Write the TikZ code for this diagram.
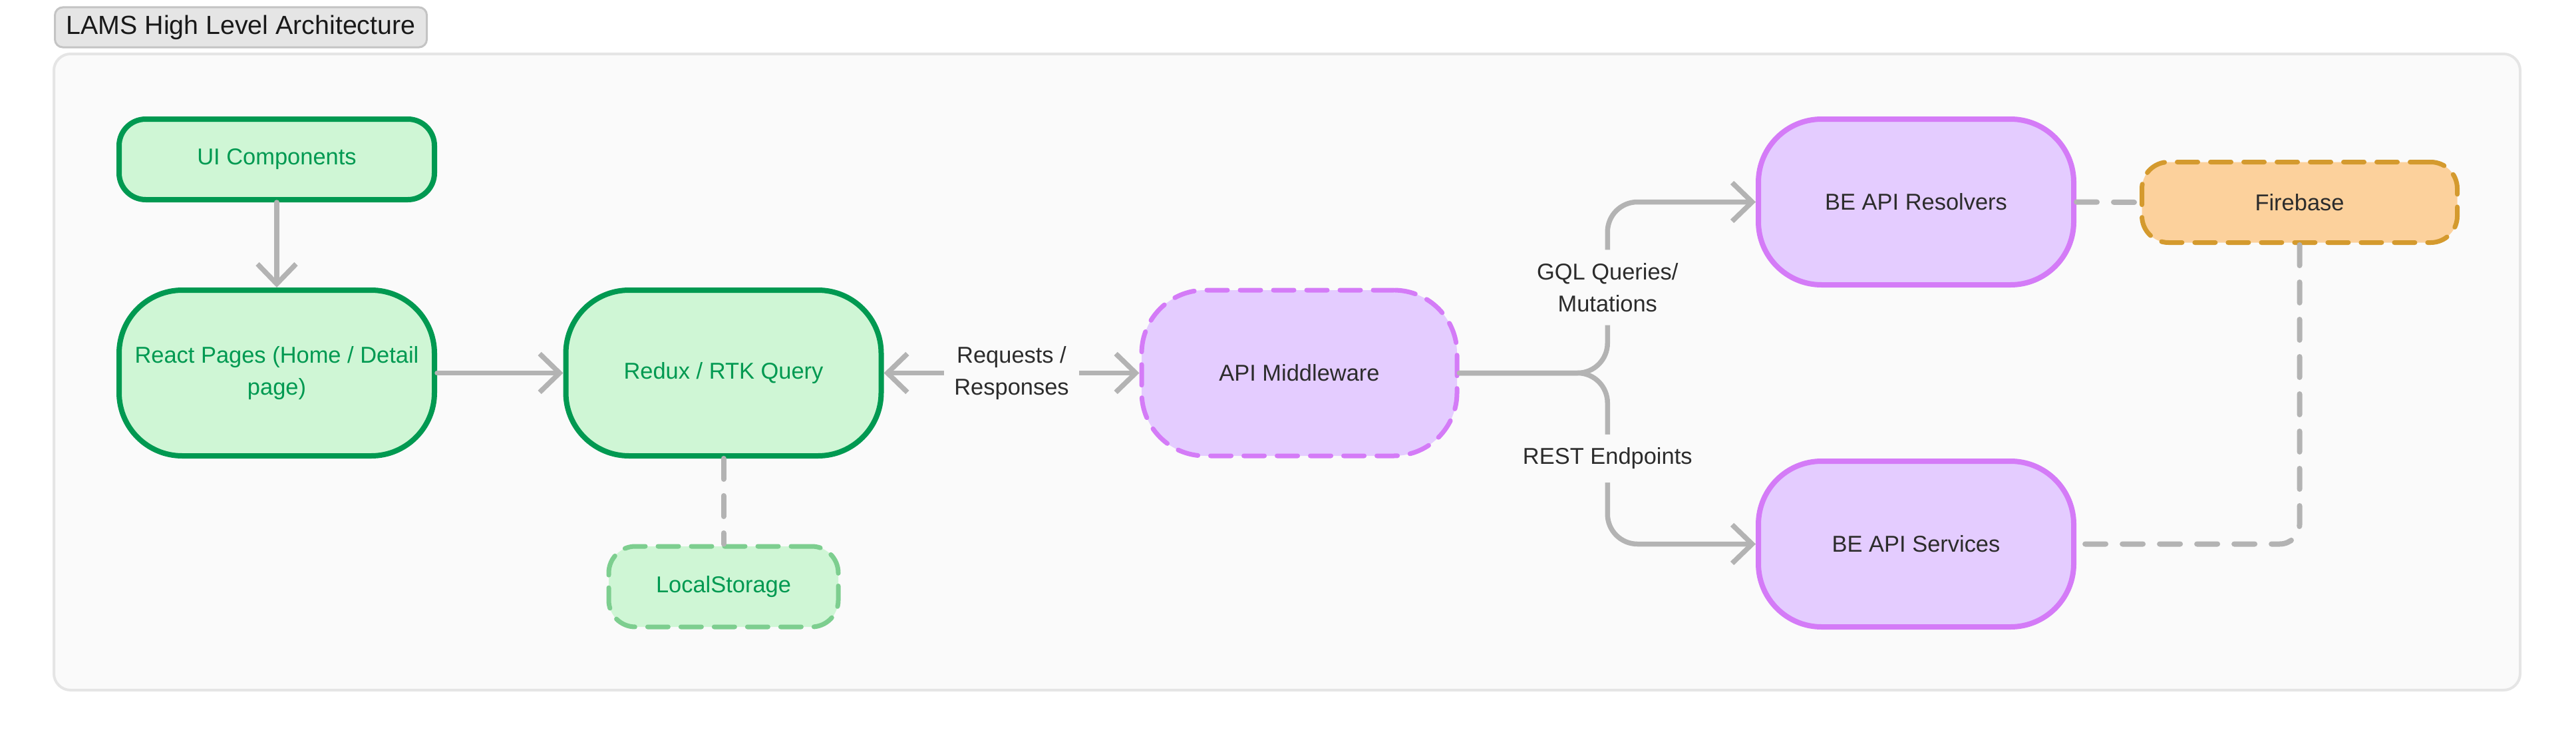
\documentclass[tikz,border=0pt]{standalone}
\usepackage{fontspec}
\setmainfont{Liberation Sans}
\usepackage{xcolor}
\usetikzlibrary{arrows.meta,calc,positioning}
\definecolor{verdefondo}{HTML}{CFF6D5}
\definecolor{verdeborde}{HTML}{009951}
\definecolor{verdeclaro}{HTML}{7DCE8F}
\definecolor{moradofondo}{HTML}{E4CCFF}
\definecolor{moradoborde}{HTML}{D47BF7}
\definecolor{naranjafondo}{HTML}{FCD19C}
\definecolor{naranjaborde}{HTML}{D49A2E}
\definecolor{gris}{HTML}{B3B3B3}
\definecolor{fondo}{HTML}{FAFAFA}
\definecolor{texto}{HTML}{2C2C2C}
\tikzset{
  caja/.style={rounded corners=0.95cm,line width=0.08cm,minimum width=4.74cm,minimum height=2.49cm,
    align=center,inner sep=0.1cm,font=\fontsize{9.8}{13.7}\selectfont},
  chica/.style={rounded corners=0.4cm,minimum height=1.21cm},
  punteada/.style={line width=0.07cm,dash pattern=on 0.31cm off 0.19cm,line cap=round},
  verde/.style={caja,fill=verdefondo,draw=verdeborde,text=verdeborde},
  morado/.style={caja,fill=moradofondo,draw=moradoborde,text=texto},
  naranja/.style={caja,fill=naranjafondo,draw=naranjaborde,text=texto},
  flecha/.style={-{Straight Barb[length=0.3cm,width=0.58cm]},gris,line width=0.075cm,line cap=round,line join=round},
  flechas/.style={flecha,{Straight Barb[length=0.3cm,width=0.58cm]}-{Straight Barb[length=0.3cm,width=0.58cm]}},
  enlace/.style={gris,line width=0.08cm,dash pattern=on 0.31cm off 0.25cm,line cap=round},
  etiq/.style={fill=fondo,text=texto,align=center,inner xsep=0.15cm,inner ysep=0.2cm,font=\fontsize{9.8}{13.7}\selectfont},
  marco/.style={fill=fondo,draw=black!10,line width=0.04cm,rounded corners=0.25cm},
  titulo/.style={fill=black!10,draw=black!23,line width=0.03cm,rounded corners=0.12cm,minimum width=5.49cm,
    anchor=west,inner xsep=0.17cm,minimum height=0.52cm,text=black!90,font=\fontsize{11.2}{12}\selectfont}
}
\begin{document}
\begin{tikzpicture}
\useasboundingbox (0,0) rectangle (38.72,-11.2);
% fondo y titulo
\draw[marco] (0.81,-0.81) rectangle (37.88,-10.37);
\node[titulo] (tit) at (0.81,-0.41) {LAMS High Level Architecture\hfill};
% frontend
\node[verde,chica] (ui) at (4.16,-2.395) {UI Components};
\node[verde] (pages) at (4.16,-5.605) {React Pages (Home / Detail\\page)};
\node[verde] (redux) at (10.875,-5.605) {Redux / RTK Query};
\node[verde,chica,punteada,draw=verdeclaro,minimum width=3.45cm] (local) at (10.875,-8.815) {LocalStorage};
% backend
\node[morado,punteada] (mw) at (19.53,-5.605) {API Middleware};
\node[morado] (resolv) at (28.80,-3.035) {BE API Resolvers};
\node[morado] (serv) at (28.80,-8.175) {BE API Services};
\node[naranja,chica,punteada] (fire) at (34.565,-3.04) {Firebase};
\coordinate (fork) at ($(mw.east)!0.5!(mw.east -| resolv.west)$);
% conexiones
\draw[flecha] (ui) -- (pages);
\draw[flecha] (pages) -- (redux);
\draw[flechas] (redux) -- node[etiq] {Requests /\\Responses} (mw);
\draw[enlace] (redux) -- (local);
\draw[flecha,rounded corners=0.45cm] (mw.east) -- (fork) |- node[etiq,pos=0.25] {GQL Queries/\\Mutations} (resolv.west);
\draw[flecha,rounded corners=0.45cm] (mw.east) -- (fork) |- node[etiq,pos=0.25] {REST Endpoints} (serv.west);
\draw[enlace] (resolv.east) -- (fire.west);
\draw[enlace,rounded corners=0.3cm] (fire.south) |- (serv.east);
\end{tikzpicture}
\end{document}
